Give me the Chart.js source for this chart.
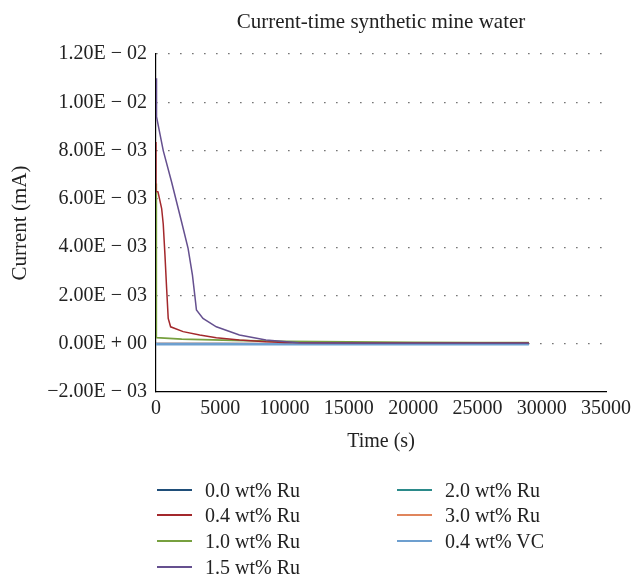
<!DOCTYPE html>
<html>
<head>
<meta charset="utf-8">
<title>Current-time synthetic mine water</title>
<script src="https://cdn.jsdelivr.net/npm/chart.js@4.4.1/dist/chart.umd.min.js"></script>
<style>
    body {
        margin: 0;
        background: #ffffff;
        font-family: 'Liberation Serif', 'DejaVu Serif', serif;
    }
    .chart-wrap {
        position: relative;
        width: 636px;
        height: 460px;
    }
    .legend {
        position: absolute;
        left: 0;
        top: 0;
        width: 636px;
        height: 576px;
        pointer-events: none;
    }
    .legend-item {
        position: absolute;
        height: 24px;
        display: flex;
        align-items: center;
        font-size: 20px;
        color: #222;
        white-space: nowrap;
    }
    .legend-line {
        display: inline-block;
        width: 35px;
        height: 2px;
        margin-right: 13px;
    }
</style>
</head>
<body>
<div class="chart-wrap">
    <canvas id="currentChart" width="636" height="460"></canvas>
</div>
<div class="legend" id="legend"></div>

<script>
// time (s) and current (mA) for every sample
const seriesNames = ['0.0 wt% Ru', '0.4 wt% Ru', '1.0 wt% Ru', '1.5 wt% Ru', '2.0 wt% Ru', '3.0 wt% Ru', '0.4 wt% VC'];
const seriesColors = ['#1f4e79', '#a3282c', '#77a03f', '#65508f', '#2b8a8a', '#e0855c', '#6d9fcf'];

const timeRu00 = [0, 5000, 10000, 15000, 20000, 25000, 29000];
const currRu00 = [0.00001, 0.00001, 0, 0, 0, 0, 0];

const timeRu04 = [0, 0, 155, 440, 564, 695, 827, 950, 1136, 2110, 3400, 4690, 6490, 8550, 10000, 12000, 16000, 20000, 25000, 29000];
const currRu04 = [0.00836, 0.0063, 0.00629, 0.0056, 0.00495, 0.00369, 0.00229, 0.00105, 0.0007, 0.0005, 0.00036, 0.00025, 0.00015, 0.00008, 0.00005, 0.00004, 0.00003, 0.00003, 0.00003, 0.00003];

const timeRu10 = [0, 20, 2000, 6000, 10000, 15000, 20000, 25000, 29000];
const currRu10 = [0.00664, 0.00025, 0.00019, 0.00014, 0.0001, 0.00007, 0.00005, 0.00004, 0.00004];

const timeRu15 = [0, 40, 564, 1213, 1986, 2495, 2835, 3013, 3145, 3654, 4690, 6490, 8550, 11100, 14000, 18000, 22000, 26000, 29000];
const currRu15 = [0.011, 0.0094, 0.008, 0.0067, 0.00505, 0.00395, 0.00284, 0.00202, 0.0014, 0.00105, 0.0007, 0.00036, 0.00015, 0.00004, 0.00003, 0.00002, 0.00002, 0.00002, 0.00002];

const timeRu20 = [0, 5000, 10000, 15000, 20000, 25000, 29000];
const currRu20 = [-0.00002, -0.00002, -0.00002, -0.00002, -0.00002, -0.00002, -0.00002];

const timeRu30 = [0, 5000, 10000, 15000, 20000, 25000, 29000];
const currRu30 = [0.00001, 0.00001, 0.00001, 0.00001, 0.00001, 0.00001, 0.00001];

const timeVC04 = [0, 5000, 10000, 15000, 20000, 25000, 29000];
const currVC04 = [-0.00002, -0.00002, -0.00002, -0.00002, -0.00002, -0.00002, -0.00002];

const yTicks = [-0.002, 0, 0.002, 0.004, 0.006, 0.008, 0.01, 0.012];
const xTicks = [0, 5000, 10000, 15000, 20000, 25000, 30000, 35000];

const seriesTimes = [timeRu00, timeRu04, timeRu10, timeRu15, timeRu20, timeRu30, timeVC04];
const seriesCurrents = [currRu00, currRu04, currRu10, currRu15, currRu20, currRu30, currVC04];
// draw order: lower number ends up on top
const seriesOrder = [5, 1, 2, 0, 4, 6, 3];
const seriesWidths = [1.5, 1.5, 1.8, 1.5, 1.5, 1.5, 2.6];

const FONT = "'Liberation Serif', 'DejaVu Serif', serif";

// 1.20E − 02 style labels
function sciLabel(v) {
    const parts = Number(v).toExponential(2).split('e');
    let mant = parts[0];
    let exp = parseInt(parts[1], 10);
    if (Number(v) === 0) { mant = '0.00'; exp = 0; }
    mant = mant.replace('-', '\u2212');
    const sign = exp < 0 ? ' \u2212 ' : ' + ';
    const e = String(Math.abs(exp)).padStart(2, '0');
    return mant + 'E' + sign + e;
}

function buildDatasets() {
    return seriesNames.map((name, i) => ({
        label: name,
        data: seriesTimes[i].map((t, j) => ({ x: t, y: seriesCurrents[i][j] })),
        borderColor: seriesColors[i],
        backgroundColor: seriesColors[i],
        borderWidth: seriesWidths[i],
        pointRadius: 0,
        tension: 0,
        fill: false,
        order: seriesOrder[i]
    }));
}

// title centred over the plot area rather than the whole canvas
const areaTitle = {
    id: 'areaTitle',
    afterDraw(chart) {
        const { ctx, chartArea } = chart;
        ctx.save();
        ctx.font = '21px ' + FONT;
        ctx.fillStyle = '#222';
        ctx.textAlign = 'center';
        ctx.textBaseline = 'middle';
        ctx.fillText('Current-time synthetic mine water', (chartArea.left + chartArea.right) / 2, 22);
        ctx.restore();
    }
};

function createCurrentChart() {
    const ctx = document.getElementById('currentChart').getContext('2d');
    new Chart(ctx, {
        type: 'line',
        data: { datasets: buildDatasets() },
        plugins: [areaTitle],
        options: {
            responsive: false,
            animation: false,
            layout: { padding: { top: 54, right: 27, left: 0, bottom: 0 } },
            plugins: {
                legend: { display: false },
                title: { display: false },
                tooltip: { enabled: false }
            },
            scales: {
                x: {
                    type: 'linear',
                    min: xTicks[0],
                    max: xTicks[xTicks.length - 1],
                    afterBuildTicks: (scale) => { scale.ticks = xTicks.map(v => ({ value: v })); },
                    afterFit: (scale) => { scale.height = 68; },
                    grid: { display: false, drawTicks: false },
                    border: { display: true, color: '#000', width: 1.2 },
                    ticks: {
                        color: '#222',
                        font: { family: FONT, size: 20 },
                        padding: 5,
                        maxRotation: 0,
                        autoSkip: false,
                        callback: (v) => String(v)
                    },
                    title: {
                        display: true,
                        text: 'Time (s)',
                        color: '#222',
                        font: { family: FONT, size: 20 },
                        padding: { top: 2, bottom: 6 }
                    }
                },
                y: {
                    type: 'linear',
                    min: yTicks[0],
                    max: yTicks[yTicks.length - 1],
                    afterBuildTicks: (scale) => { scale.ticks = yTicks.map(v => ({ value: v })); },
                    afterFit: (scale) => { scale.width = 156; },
                    grid: {
                        drawTicks: false,
                        lineWidth: 1.2,
                        color: (c) => (c.index === 0 ? 'rgba(0,0,0,0)' : '#555')
                    },
                    border: { display: true, color: '#000', width: 1.2, dash: [1.3, 10.7] },
                    ticks: {
                        color: '#222',
                        font: { family: FONT, size: 20 },
                        padding: 9,
                        callback: (v) => sciLabel(v)
                    },
                    title: {
                        display: true,
                        text: 'Current (mA)',
                        color: '#222',
                        font: { family: FONT, size: 21 },
                        padding: { top: 8, bottom: 0 }
                    }
                }
            }
        }
    });
}

// legend in two columns, filled top to bottom
function buildLegend() {
    const legend = document.getElementById('legend');
    const rowsPerCol = 4;
    const colLeft = [157, 397];
    const rowTop = [478, 503, 529, 555];
    seriesNames.forEach((name, i) => {
        const col = Math.floor(i / rowsPerCol);
        const row = i % rowsPerCol;
        const item = document.createElement('div');
        item.className = 'legend-item';
        item.style.left = colLeft[col] + 'px';
        item.style.top = rowTop[row] + 'px';
        item.innerHTML = `<span class="legend-line" style="background:${seriesColors[i]}"></span><span>${name}</span>`;
        legend.appendChild(item);
    });
}

document.addEventListener('DOMContentLoaded', () => {
    createCurrentChart();
    buildLegend();
});
</script>
</body>
</html>
